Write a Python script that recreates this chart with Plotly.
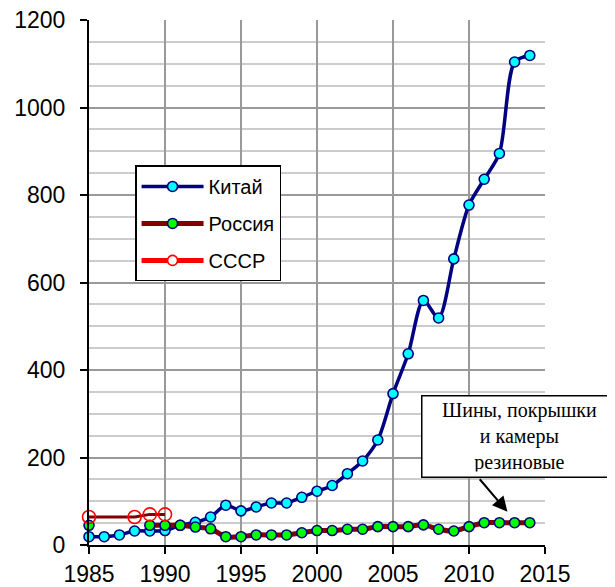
import plotly.graph_objects as go

years_china = list(range(1985, 2015))
china = [19, 19, 23, 32, 32, 33, 45, 52, 64, 91, 78, 87, 96, 96, 109, 123, 136, 163,
         192, 240, 346, 437, 559, 519, 654, 777, 836, 895, 1104, 1119]

years_russia = list(range(1985, 2015))
russia = [45, None, None, None, 45, 45, 45, 41, 37, 19, 19, 23, 23, 23, 28, 33, 33, 36,
          36, 42, 42, 42, 46, 36, 32, 42, 51, 51, 51, 51]

years_ussr = [1985, 1988, 1989, 1990]
ussr = [64, 64, 70, 70]

x_ticks = [1985, 1990, 1995, 2000, 2005, 2010, 2015]
y_ticks = [0, 200, 400, 600, 800, 1000, 1200]

fig = go.Figure()
fig.add_trace(go.Scatter(
    x=years_china, y=china, name="Китай", mode="lines+markers",
    line=dict(color="#000080", width=3.5, shape="spline", smoothing=0.8),
    marker=dict(size=10, color="#00FFFF", line=dict(color="#000080", width=1.6)),
    cliponaxis=False, legendgroup="a"))
fig.add_trace(go.Scatter(
    x=years_russia, y=russia, name="Россия", mode="lines+markers",
    line=dict(color="#800000", width=5, shape="spline", smoothing=0.8),
    marker=dict(size=10, color="#00FF00", line=dict(color="#000080", width=1.6)),
    connectgaps=False, cliponaxis=False, legendgroup="b"))
fig.add_trace(go.Scatter(
    x=years_ussr, y=ussr, name="СССР", mode="lines+markers", showlegend=False,
    line=dict(color="#800000", width=3),
    marker=dict(size=13, color="rgba(255,255,255,0)", line=dict(color="#FF0000", width=1.6)),
    cliponaxis=False))
fig.add_trace(go.Scatter(
    x=[None], y=[None], name="СССР", mode="lines+markers",
    line=dict(color="#FF0000", width=5),
    marker=dict(size=10, color="#FFFFFF", line=dict(color="#FF0000", width=1.6)),
    legendgroup="c"))

fig.add_annotation(x=2012.53, y=76, ax=-29, ay=-34, xref="x", yref="y",
                   text="", showarrow=True, arrowhead=2, arrowsize=1.5,
                   arrowwidth=2, arrowcolor="black")
fig.add_annotation(x=2013.35, y=247, xref="x", yref="y", showarrow=False,
                   text="Шины, покрышки<br>и камеры<br>резиновые",
                   font=dict(family="Liberation Serif", size=20, color="black"),
                   bgcolor="white", bordercolor="black", borderwidth=1.5,
                   width=184, height=70, borderpad=5)

fig.update_layout(
    width=607, height=579,
    margin=dict(l=81, r=70, t=12, b=42, autoexpand=False),
    paper_bgcolor="white", plot_bgcolor="white",
    font=dict(family="Arial, Liberation Sans", size=23, color="black"),
    showlegend=True,
    legend=dict(x=0.101, y=0.723, xanchor="left", yanchor="top",
                bgcolor="white", bordercolor="black", borderwidth=1.5,
                font=dict(size=20), itemwidth=62, traceorder="grouped",
                tracegroupgap=8),
)
fig.update_xaxes(range=[1985, 2015], tickvals=x_ticks, ticks="outside", ticklen=7,
                 tickcolor="black", tickwidth=2, showline=True, linecolor="black",
                 linewidth=2, showgrid=True, gridcolor="#999999", gridwidth=1.5,
                 zeroline=False, ticklabelstandoff=0, automargin=False,
                 ticklabeloverflow="allow")
fig.update_yaxes(range=[0, 1200], tickvals=y_ticks, ticks="outside", ticklen=7,
                 tickcolor="black", tickwidth=2, showline=True, linecolor="black",
                 linewidth=2, showgrid=True, gridcolor="#999999", gridwidth=1.5,
                 zeroline=False, ticklabelstandoff=10, automargin=False,
                 ticklabeloverflow="allow",
                 minor=dict(dtick=50, showgrid=True, gridcolor="#CCCCCC", gridwidth=1.5))

fig.write_html("out.html")
